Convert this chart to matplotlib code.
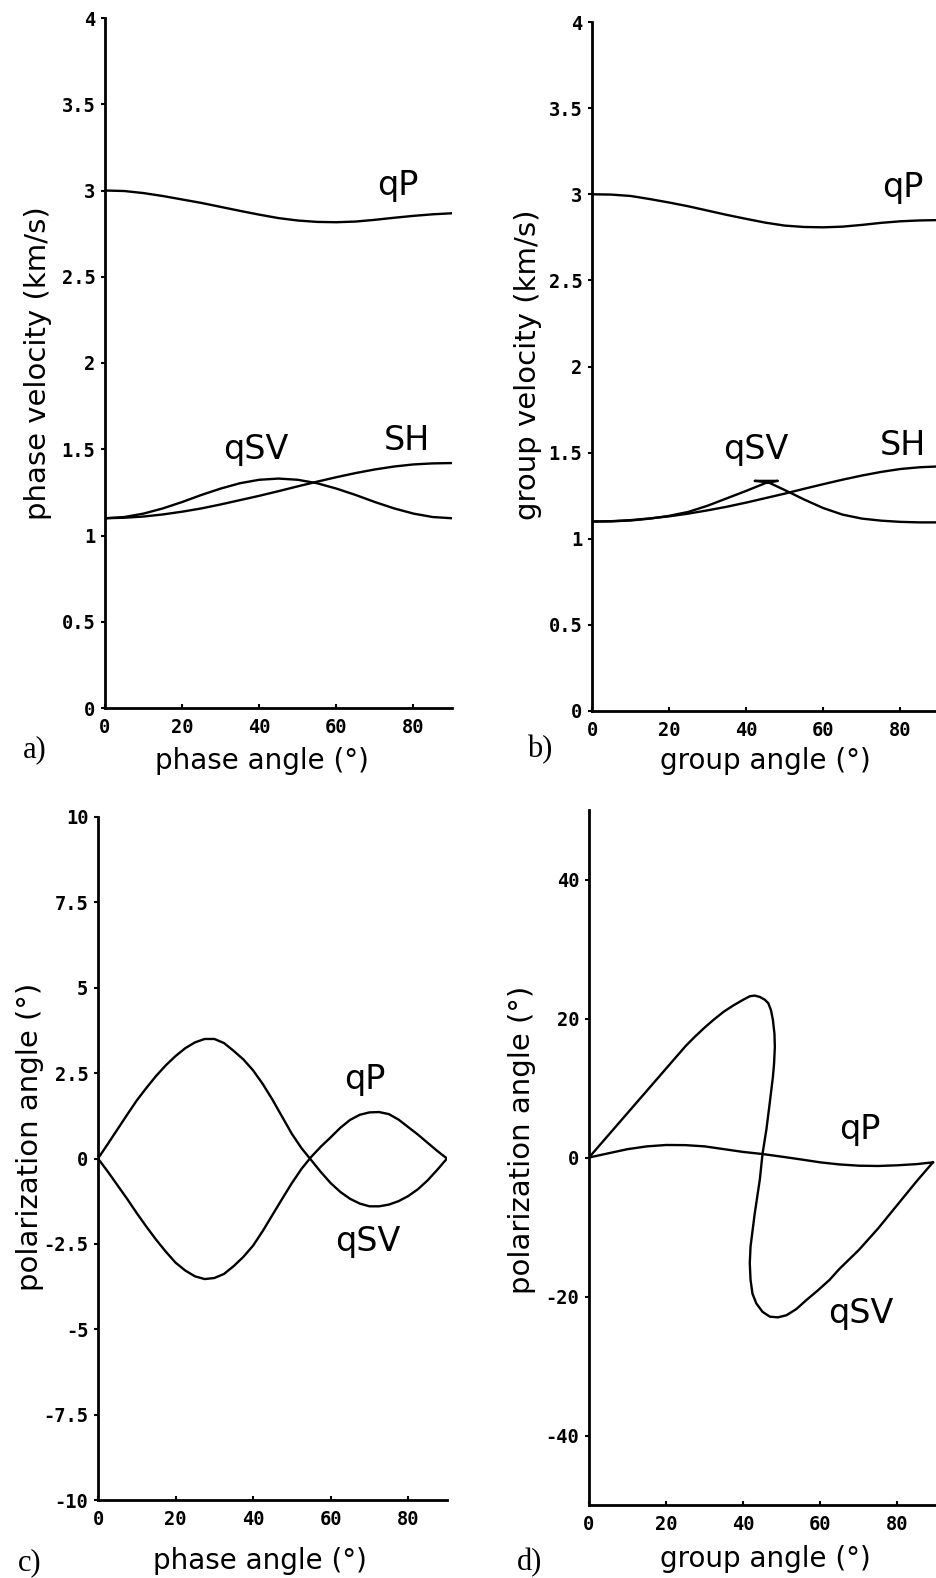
import matplotlib
matplotlib.use("Agg")
import matplotlib.pyplot as plt
from matplotlib.ticker import FixedLocator, FixedFormatter

# ---------------- data ----------------
angles = [0, 5, 10, 15, 20, 25, 30, 35, 40, 45, 50, 55, 60, 65, 70, 75, 80, 85, 90]

# a) phase velocity (km/s) vs phase angle
qP_phase_vel = [3.000, 2.997, 2.985, 2.968, 2.948, 2.928, 2.905, 2.882, 2.860, 2.840,
                2.826, 2.818, 2.816, 2.820, 2.830, 2.842, 2.853, 2.862, 2.868]
qSV_phase_vel = [1.100, 1.107, 1.127, 1.157, 1.194, 1.235, 1.272, 1.303, 1.323, 1.330,
                 1.323, 1.303, 1.272, 1.235, 1.194, 1.157, 1.127, 1.107, 1.100]
SH_phase_vel = [1.100, 1.103, 1.110, 1.122, 1.138, 1.157, 1.180, 1.205, 1.230, 1.257,
                1.285, 1.312, 1.338, 1.362, 1.383, 1.400, 1.412, 1.418, 1.420]

# b) group velocity (km/s) vs group angle
qP_group_vel = [3.000, 2.998, 2.990, 2.972, 2.952, 2.930, 2.905, 2.880, 2.857, 2.835,
                2.818, 2.810, 2.808, 2.812, 2.822, 2.834, 2.843, 2.848, 2.850]
SH_group_vel = [1.100, 1.102, 1.108, 1.118, 1.130, 1.146, 1.165, 1.186, 1.210, 1.236,
                1.262, 1.290, 1.317, 1.343, 1.367, 1.388, 1.405, 1.415, 1.420]
qSV_group_ang = [0, 5, 10, 15, 20, 25, 30, 35, 40, 45.2, 48.2, 42.2, 45.7, 50.9,
                 55, 60, 65, 70, 75, 80, 85, 90]
qSV_group_vel = [1.100, 1.101, 1.106, 1.117, 1.133, 1.156, 1.192, 1.235, 1.278, 1.325,
                 1.336, 1.336, 1.328, 1.273, 1.228, 1.178, 1.140, 1.117, 1.105, 1.098,
                 1.095, 1.095]

# c) polarization angle (deg) vs phase angle
angles_c = [0, 2.5, 5, 7.5, 10, 12.5, 15, 17.5, 20, 22.5, 25, 27.5, 30, 32.5, 35, 37.5,
            40, 42.5, 45, 47.5, 50, 52.5, 55, 57.5, 60, 62.5, 65, 67.5, 70, 72.5, 75,
            77.5, 80, 82.5, 85, 87.5, 90]
qSV_pol_phase = [0.00, 0.42, 0.85, 1.28, 1.70, 2.07, 2.42, 2.73, 3.00, 3.23, 3.40, 3.50,
                 3.50, 3.38, 3.15, 2.90, 2.58, 2.18, 1.72, 1.22, 0.72, 0.30, -0.05,
                 -0.40, -0.72, -0.98, -1.18, -1.32, -1.40, -1.40, -1.35, -1.25, -1.10,
                 -0.90, -0.64, -0.33, 0.00]
qP_pol_phase = [0.00, -0.38, -0.78, -1.18, -1.60, -2.00, -2.38, -2.73, -3.05, -3.28,
                -3.45, -3.53, -3.50, -3.38, -3.15, -2.88, -2.55, -2.12, -1.65, -1.18,
                -0.72, -0.30, 0.05, 0.35, 0.62, 0.90, 1.13, 1.28, 1.35, 1.36, 1.30,
                1.14, 0.92, 0.70, 0.46, 0.22, 0.00]

# d) polarization angle (deg) vs group angle
qP_group_ang = [0, 5, 10, 15, 20, 25, 30, 35, 40, 45, 50, 55, 60, 65, 70, 75, 80, 85, 89.2]
qP_pol_group = [0.0, 0.6, 1.2, 1.6, 1.8, 1.78, 1.6, 1.2, 0.8, 0.5, 0.12, -0.28, -0.7,
                -1.0, -1.18, -1.22, -1.12, -0.95, -0.7]
qSV_d_ang = [0, 5, 10, 15, 20, 22.5, 25, 27.5, 30, 32.5, 35, 37.5, 40, 41.7, 43.0, 44.3,
             45.6, 46.5, 47.2, 47.7, 48.1, 48.2, 48.0, 47.7, 46.8, 46.0, 45.0, 44.3,
             43.0, 41.9, 41.7, 41.9, 42.4, 43.4, 45.0, 46.9, 49.0, 51.2, 53.8, 56.4,
             59.4, 62.4, 65, 70, 75, 80, 85, 89.2]
qSV_d_pol = [0, 3.2, 6.4, 9.6, 12.8, 14.4, 16.0, 17.4, 18.7, 19.9, 21.0, 21.9, 22.7,
             23.2, 23.3, 23.1, 22.7, 22.2, 21.2, 19.8, 17.8, 15.9, 13.5, 11.6, 7.5, 4.0,
             0.5, -3.2, -8.0, -12.8, -15.2, -17.6, -19.6, -21.0, -22.2, -22.9, -23.0,
             -22.7, -21.8, -20.5, -19.1, -17.6, -16.0, -13.3, -10.2, -6.8, -3.4, -0.7]

x_ticks = [0, 20, 40, 60, 80]
x_ticklabels = ["0", "20", "40", "60", "80"]
vel_ticks = [0, 0.5, 1, 1.5, 2, 2.5, 3, 3.5, 4]
vel_ticklabels = ["0", "0.5", "1", "1.5", "2", "2.5", "3", "3.5", "4"]
polc_ticks = [-10, -7.5, -5, -2.5, 0, 2.5, 5, 7.5, 10]
polc_ticklabels = ["-10", "-7.5", "-5", "-2.5", "0", "2.5", "5", "7.5", "10"]
pold_ticks = [-40, -20, 0, 20, 40]
pold_ticklabels = ["-40", "-20", "0", "20", "40"]

# ---------------- figure ----------------
W, H = 936, 1578
fig = plt.figure(figsize=(W / 100, H / 100), dpi=100)
fig.patch.set_facecolor("white")

TICKFONT = dict(family="DejaVu Sans Mono", weight="bold", size=13.5)
YLABELFONT = dict(family="DejaVu Sans", size=21)
XLABELFONT = dict(family="DejaVu Sans", size=20)
CURVEFONT = dict(family="DejaVu Sans", size=24)
PANELFONT = dict(family="Liberation Serif", size=22)
LW = 1.7


def rect(x0, x1, ytop, ybot):
    return [x0 / W, 1 - ybot / H, (x1 - x0) / W, (ybot - ytop) / H]


def style(ax, xlim, ylim, yt, ytl):
    ax.set_xlim(*xlim)
    ax.set_ylim(*ylim)
    for s in ("top", "right"):
        ax.spines[s].set_visible(False)
    for s in ("left", "bottom"):
        ax.spines[s].set_linewidth(2.0)
    ax.xaxis.set_major_locator(FixedLocator(x_ticks))
    ax.xaxis.set_major_formatter(FixedFormatter(x_ticklabels))
    ax.yaxis.set_major_locator(FixedLocator(yt))
    ax.yaxis.set_major_formatter(FixedFormatter(ytl))
    ax.tick_params(axis="x", direction="in", length=3, width=1.5, pad=7)
    ax.tick_params(axis="y", direction="out", length=3, width=1.5, pad=4)
    for lab in ax.get_xticklabels() + ax.get_yticklabels():
        lab.set_fontfamily(TICKFONT["family"])
        lab.set_fontweight(TICKFONT["weight"])
        lab.set_fontsize(TICKFONT["size"])
    ax.patch.set_alpha(0)


def ftext(x, y, s, rot=0, **kw):
    fig.text(x / W, 1 - y / H, s, rotation=rot, ha="center", va="center", **kw)


# a)
axa = fig.add_axes(rect(105, 452, 18, 708))
axa.plot(angles, qP_phase_vel, color="black", lw=LW)
axa.plot(angles, qSV_phase_vel, color="black", lw=LW)
axa.plot(angles, SH_phase_vel, color="black", lw=LW)
style(axa, (0, 90), (0, 4), vel_ticks, vel_ticklabels)
axa.text(76, 3.03, "qP", ha="center", va="center", **CURVEFONT)
axa.text(39.2, 1.50, "qSV", ha="center", va="center", **CURVEFONT)
axa.text(78.3, 1.55, "SH", ha="center", va="center", **CURVEFONT)
ftext(38, 363, "phase velocity (km/s)", rot=90, **YLABELFONT)
ftext(262, 761, "phase angle (°)", **XLABELFONT)
ftext(35, 750, "a)", **PANELFONT)

# b)
axb = fig.add_axes(rect(592, 939, 22, 711))
axb.plot(angles, qP_group_vel, color="black", lw=LW)
axb.plot(angles, SH_group_vel, color="black", lw=LW)
axb.plot(qSV_group_ang, qSV_group_vel, color="black", lw=LW)
style(axb, (0, 90), (0, 4), vel_ticks, vel_ticklabels)
axb.text(80.6, 3.04, "qP", ha="center", va="center", **CURVEFONT)
axb.text(42.5, 1.52, "qSV", ha="center", va="center", **CURVEFONT)
axb.text(80.6, 1.54, "SH", ha="center", va="center", **CURVEFONT)
ftext(528, 365, "group velocity (km/s)", rot=90, **YLABELFONT)
ftext(765, 761, "group angle (°)", **XLABELFONT)
ftext(540, 750, "b)", **PANELFONT)

# c)
axc = fig.add_axes(rect(98, 447, 817, 1500))
axc.plot(angles_c, qSV_pol_phase, color="black", lw=LW)
axc.plot(angles_c, qP_pol_phase, color="black", lw=LW)
style(axc, (0, 90), (-10, 10), polc_ticks, polc_ticklabels)
axc.text(68.9, 2.32, "qP", ha="center", va="center", **CURVEFONT)
axc.text(69.6, -2.42, "qSV", ha="center", va="center", **CURVEFONT)
ftext(30, 1137, "polarization angle (°)", rot=90, **YLABELFONT)
ftext(260, 1561, "phase angle (°)", **XLABELFONT)
ftext(30, 1563, "c)", **PANELFONT)

# d)
axd = fig.add_axes(rect(589, 936, 810, 1505))
axd.plot(qP_group_ang, qP_pol_group, color="black", lw=LW)
axd.plot(qSV_d_ang, qSV_d_pol, color="black", lw=LW)
style(axd, (0, 90), (-50, 50), pold_ticks, pold_ticklabels)
axd.text(70.2, 4.1, "qP", ha="center", va="center", **CURVEFONT)
axd.text(70.5, -22.4, "qSV", ha="center", va="center", **CURVEFONT)
ftext(522, 1140, "polarization angle (°)", rot=90, **YLABELFONT)
ftext(765, 1559, "group angle (°)", **XLABELFONT)
ftext(530, 1563, "d)", **PANELFONT)

fig.savefig("out.png", dpi=100, facecolor="white")
